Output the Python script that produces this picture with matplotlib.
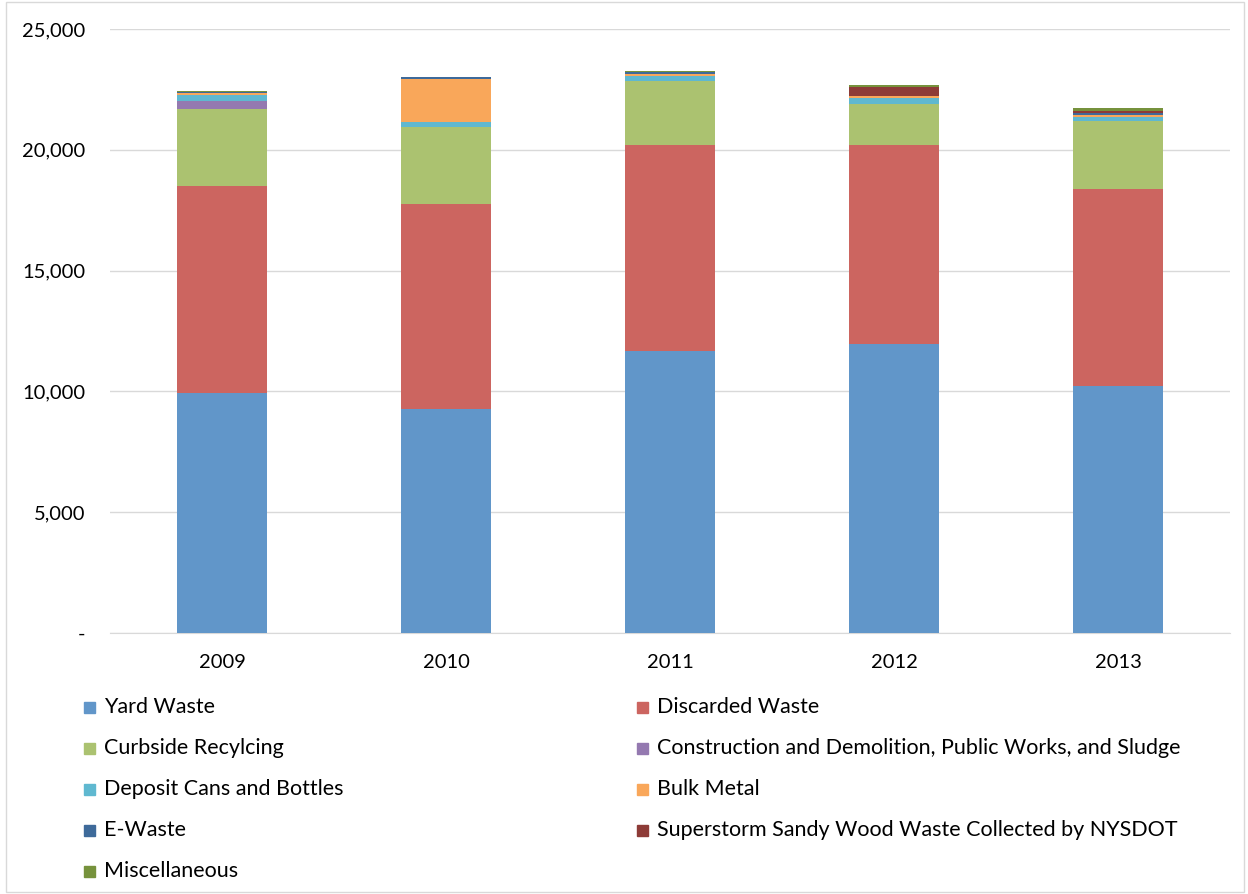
import numpy as np
import matplotlib.pyplot as plt
from matplotlib.patches import Rectangle
from matplotlib.ticker import FuncFormatter

plt.rcParams['font.family'] = ['Lato', 'DejaVu Sans']

# ---------------------------------------------------------
# Data (tons per year)
# ---------------------------------------------------------
years = ["2009", "2010", "2011", "2012", "2013"]

yard_waste = [9950, 9280, 11680, 11970, 10230]
discarded_waste = [8550, 8480, 8530, 8230, 8150]
curbside_recycling = [3190, 3175, 2650, 1710, 2815]
construction = [345, 0, 0, 0, 0]
deposit_cans = [250, 235, 210, 250, 165]
bulk_metal = [85, 1765, 80, 70, 70]
e_waste = [20, 80, 50, 0, 85]
sandy_wood = [0, 0, 0, 385, 95]
miscellaneous = [50, 0, 60, 80, 110]

labels = [
    "Yard Waste",
    "Discarded Waste",
    "Curbside Recylcing",
    "Construction and Demolition, Public Works, and Sludge",
    "Deposit Cans and Bottles",
    "Bulk Metal",
    "E-Waste",
    "Superstorm Sandy Wood Waste Collected by NYSDOT",
    "Miscellaneous",
]
series = [yard_waste, discarded_waste, curbside_recycling, construction,
          deposit_cans, bulk_metal, e_waste, sandy_wood, miscellaneous]
colors = ["#6196C9", "#CC6560", "#ABC270", "#9479B0", "#5FB8D0",
          "#F9A75A", "#3E6A9A", "#8D3B37", "#76923C"]

# ---------------------------------------------------------
# Plot
# ---------------------------------------------------------
fig = plt.figure(figsize=(12.48, 8.94), dpi=100)
ax = fig.add_axes([110 / 1248, 1 - 633 / 894, 1120 / 1248, 604 / 894])

x = np.arange(len(years))
bottom = np.zeros(len(years))
for vals, lab, col in zip(series, labels, colors):
    ax.bar(x, vals, width=0.4, bottom=bottom, color=col, label=lab, zorder=3)
    bottom += np.array(vals)

ax.set_xlim(-0.5, 4.5)
ax.set_ylim(0, 25000)
ax.set_yticks(np.arange(0, 25001, 5000))
ax.yaxis.set_major_formatter(FuncFormatter(lambda v, p: "-" if v == 0 else f"{v:,.0f}"))
ax.set_xticks(x)
ax.set_xticklabels(years)
ax.tick_params(axis="both", length=0, labelsize=14.5, colors="#000000")
ax.tick_params(axis="y", pad=18)
ax.tick_params(axis="x", pad=15)
ax.grid(axis="y", color="#D9D9D9", linewidth=1, zorder=0)
for side in ["top", "right", "left"]:
    ax.spines[side].set_visible(False)
ax.spines["bottom"].set_color("#D9D9D9")

# ---------------------------------------------------------
# Legend (two columns, row-wise order)
# ---------------------------------------------------------
col_x = [84, 637]
row_y = [707, 748, 789, 830, 871]
for i, (lab, col) in enumerate(zip(labels, colors)):
    cx = col_x[i % 2]
    cy = row_y[i // 2]
    fig.patches.append(Rectangle(((cx) / 1248, 1 - (cy + 6) / 894), 11 / 1248, 11 / 894,
                                 transform=fig.transFigure, color=col))
    fig.text((cx + 20) / 1248, 1 - cy / 894, lab, fontsize=15.5, va="center", ha="left")

# outer border
fig.patches.append(Rectangle((6 / 1248, 2 / 894), 1238 / 1248, 890 / 894,
                             transform=fig.transFigure, fill=False,
                             edgecolor="#D9D9D9", linewidth=1))

fig.savefig("out.png", dpi=100)
